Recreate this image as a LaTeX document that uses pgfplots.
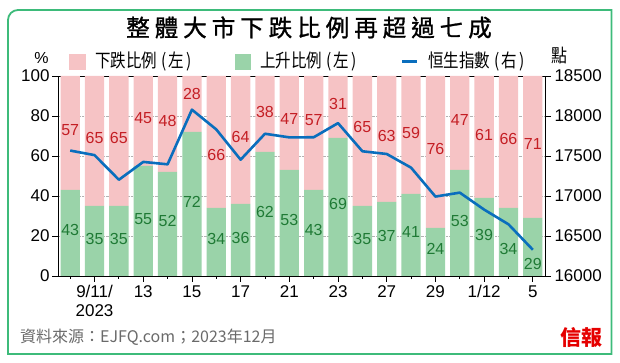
\documentclass[border=0pt]{standalone}
\usepackage{pgfplots}
\pgfplotsset{compat=1.18}
\usepackage{pgfplotstable}
\usepackage{fontspec}
\setmainfont{Liberation Sans}
\newfontfamily\cjk{Noto Sans CJK TC}
\newfontfamily\cjkt[FakeBold=1.3]{Noto Sans CJK TC}
\definecolor{pinkbar}{HTML}{F6C3C5}
\definecolor{greenbar}{HTML}{9AD3A9}
\definecolor{hsiblue}{HTML}{0A6EBD}
\definecolor{redlab}{HTML}{C41E24}
\definecolor{greenlab}{HTML}{1F7A35}
\definecolor{framec}{HTML}{3DBB7A}
\definecolor{srcgray}{HTML}{6A6A6A}
\newcommand\tsp{\hspace{5pt}}
\newcommand\legtext[2]{\scalebox{1}[1.2]{\cjk\fontsize{15.5}{15.5}\selectfont #1\hspace{4pt}(\hspace{2.5pt}#2\hspace{2.5pt})}}

\pgfplotstableread{
x up down hsi uy dy
0 43 57 17568 23 73
1 35 65 17511 18.5 68.8
2 35 65 17203 18.5 68.8
3 55 45 17426 28.3 78.8
4 52 48 17396 27.5 77.7
5 72 28 18079 37.2 91
6 34 66 17832 18.3 60.5
7 36 64 17454 19.2 69.7
8 62 38 17778 32.2 82.2
9 53 47 17733 28 78.3
10 43 57 17734 23 78
11 69 31 17911 36 86
12 35 65 17559 18.5 74.3
13 37 63 17525 20 70.2
14 41 59 17354 21.8 71.7
15 24 76 16993 13.3 63.5
16 53 47 17042 27.7 78
17 39 61 16830 20.5 70.5
18 34 66 16646 13.3 68.3
19 29 71 16328 6 65.8
}\datatable

\begin{document}
\begin{tikzpicture}
\useasboundingbox (0pt,0pt) rectangle (620pt,363pt);
\begin{scope}[x=1pt,y=1pt]
\draw[framec, line width=1.8pt] (8,9) -- (8,343) arc[start angle=180,end angle=90,radius=10] -- (611.5,353) -- (611.5,9) -- cycle;
\node at (309,335.5) {\cjkt\fontsize{23.5}{23.5}\selectfont 整\tsp 體\tsp 大\tsp 市\tsp 下\tsp 跌\tsp 比\tsp 例\tsp 再\tsp 超\tsp 過\tsp 七\tsp 成};
% legend
\fill[pinkbar] (69,293) rectangle (86,309);
\node[anchor=west, inner sep=0] at (95,301) {\legtext{下跌比例}{左}};
\fill[greenbar] (235,293) rectangle (251,309);
\node[anchor=west, inner sep=0] at (260,301) {\legtext{上升比例}{左}};
\draw[hsiblue, line width=3pt] (402,301) -- (417,301);
\node[anchor=west, inner sep=0] at (428,301) {\legtext{恒生指數}{右}};
\node at (41.5,304.5) {\fontsize{16}{16}\selectfont \%};
\node at (559.5,307) {\scalebox{1}[1.15]{\cjk\fontsize{16}{16}\selectfont 點}};
% source
\node[anchor=west, inner sep=0, text=srcgray] at (20,25.5) {\cjk\fontsize{16}{16}\selectfont 資料來源：EJFQ.com；2023年12月};
\node[text=red!90!black] at (581,25.5) {\cjk\bfseries\fontsize{21}{21}\selectfont 信報};
\end{scope}

\begin{axis}[
  at={(58pt,87pt)}, anchor=south west,
  scale only axis, width=487pt, height=200pt,
  xmin=-0.5, xmax=19.5, ymin=0, ymax=100,
  ybar stacked, bar width=19.3pt,
  ytick={0,20,40,60,80,100},
  ytick pos=left, xtick pos=bottom,
  tick align=outside,
  major tick length=6pt, minor tick length=3pt,
  xtick={1,3,5,7,9,11,13,15,17,19},
  xticklabels={{9/11/\\2023},13,15,17,21,23,27,29,1/12,5},
  minor xtick={0,2,4,6,8,10,12,14,16,18},
  xticklabel style={align=center, anchor=north, font=\fontsize{17}{19}\selectfont},
  yticklabel style={font=\fontsize{17}{17}\selectfont, xshift=1pt},
  ymajorgrids, grid style={densely dotted, gray!60},
  axis line style={line width=0.8pt},
  tick style={black, line width=0.8pt},
  /pgf/number format/assume math mode=true,
]
\addplot[fill=greenbar, draw=none] table[x=x,y=up]{\datatable};
\addplot[fill=pinkbar, draw=none] table[x=x,y=down]{\datatable};
\end{axis}

\begin{axis}[
  at={(58pt,87pt)}, anchor=south west,
  scale only axis, width=487pt, height=200pt,
  xmin=-0.5, xmax=19.5, ymin=0, ymax=100,
  axis lines=none, ticks=none,
]
\addplot[draw=none, nodes near coords, point meta=explicit symbolic,
  nodes near coords align=center,
  every node near coord/.append style={font=\fontsize{16}{16}\selectfont, text=redlab}]
  table[x=x,y=dy,meta=down]{\datatable};
\addplot[draw=none, nodes near coords, point meta=explicit symbolic,
  nodes near coords align=center,
  every node near coord/.append style={font=\fontsize{16}{16}\selectfont, text=greenlab}]
  table[x=x,y=uy,meta=up]{\datatable};
\end{axis}

\begin{axis}[
  at={(58pt,87pt)}, anchor=south west,
  scale only axis, width=487pt, height=200pt,
  xmin=-0.5, xmax=19.5, ymin=16000, ymax=18500,
  axis x line=none, axis y line*=right,
  ytick={16000,16500,17000,17500,18000,18500},
  scaled y ticks=false,
  tick align=outside, major tick length=6pt,
  yticklabel style={font=\fontsize{17}{17}\selectfont, /pgf/number format/1000 sep={}, xshift=0pt},
  axis line style={line width=0.8pt},
  tick style={black, line width=0.8pt},
  /pgf/number format/assume math mode=true,
]
\addplot[hsiblue, line width=2.6pt, mark=none, line join=round] table[x=x,y=hsi]{\datatable};
\end{axis}
\end{tikzpicture}
\end{document}
